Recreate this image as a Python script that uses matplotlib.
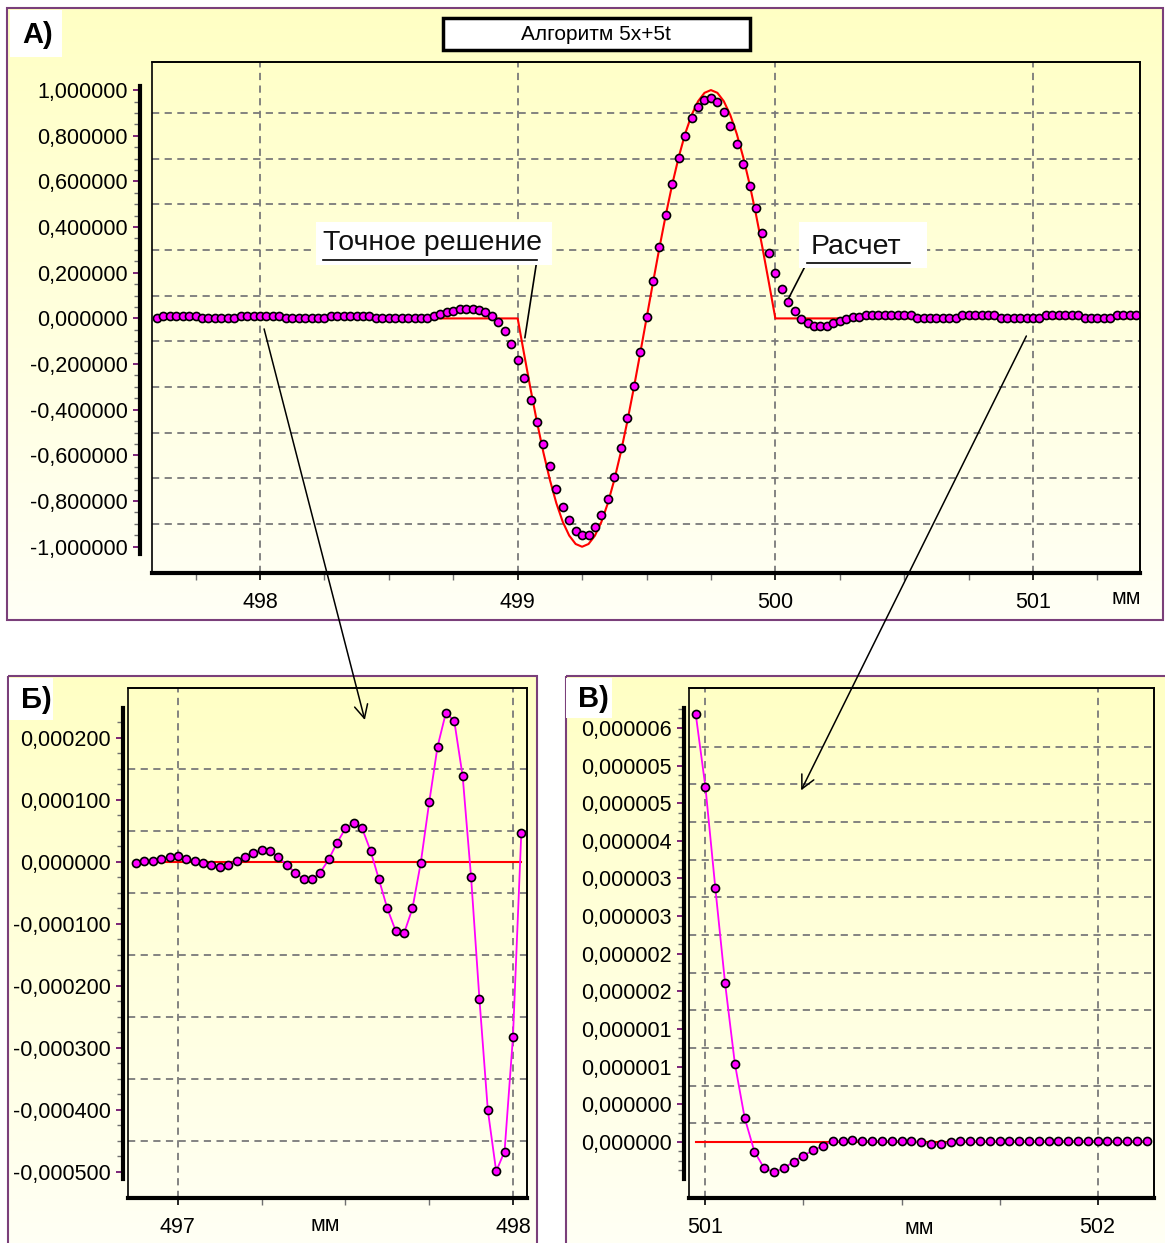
import numpy as np
import matplotlib.pyplot as plt
from matplotlib.patches import Rectangle, ConnectionPatch
from matplotlib.ticker import FixedLocator, MultipleLocator, FuncFormatter

plt.rcParams['font.family'] = ['Liberation Sans', 'DejaVu Sans']

W, H = 1165, 1243

# ---------------- data ----------------
# panel A: calculated points, step 0.025 mm starting at 497.6
a_start, a_step = 497.6, 0.025
a_vals = [
    0.003, 0.012, 0.012, 0.012, 0.012, 0.012, 0.012, 0.003, 0.003, 0.003,
    0.003, 0.003, 0.003, 0.012, 0.012, 0.012, 0.012, 0.012, 0.012, 0.012,
    0.003, 0.003, 0.003, 0.003, 0.003, 0.003, 0.003, 0.012, 0.012, 0.012,
    0.012, 0.012, 0.012, 0.012, 0.003, 0.003, 0.003, 0.003, 0.003, 0.003,
    0.003, 0.003, 0.003, 0.010, 0.018, 0.026, 0.034, 0.040, 0.041, 0.041,
    0.037, 0.029, 0.012, -0.015, -0.056, -0.112, -0.181, -0.260, -0.358, -0.455,
    -0.551, -0.647, -0.746, -0.825, -0.885, -0.930, -0.947, -0.947, -0.913, -0.859,
    -0.790, -0.693, -0.568, -0.438, -0.297, -0.147, 0.007, 0.164, 0.313, 0.455,
    0.587, 0.702, 0.797, 0.877, 0.928, 0.955, 0.965, 0.950, 0.903, 0.841,
    0.764, 0.675, 0.580, 0.482, 0.374, 0.286, 0.198, 0.127, 0.074, 0.031,
    -0.004, -0.022, -0.032, -0.034, -0.032, -0.022, -0.012, -0.003, 0.006, 0.008,
    0.015, 0.015, 0.015, 0.015, 0.015, 0.015, 0.015, 0.015, 0.003, 0.003,
    0.003, 0.003, 0.003, 0.003, 0.003, 0.015, 0.015, 0.015, 0.015, 0.015,
    0.015, 0.003, 0.003, 0.003, 0.003, 0.003, 0.003, 0.003, 0.015, 0.015,
    0.015, 0.015, 0.015, 0.015, 0.003, 0.003, 0.003, 0.003, 0.003, 0.015,
    0.015, 0.015, 0.015,
]
a_x = a_start + a_step * np.arange(len(a_vals))

# exact solution: zero, one wave between 499 and 500, zero
wave_start, wave_step = 499.0, 0.025
wave_vals = [
    0.0, -0.156, -0.309, -0.454, -0.588, -0.707, -0.809, -0.891, -0.951, -0.988,
    -1.0, -0.988, -0.951, -0.891, -0.809, -0.707, -0.588, -0.454, -0.309, -0.156,
    0.0, 0.156, 0.309, 0.454, 0.588, 0.707, 0.809, 0.891, 0.951, 0.988,
    1.0, 0.988, 0.951, 0.891, 0.809, 0.707, 0.588, 0.454, 0.309, 0.156,
    0.0,
]
wave_x = wave_start + wave_step * np.arange(len(wave_vals))
exact_x_a = np.concatenate([[497.6], wave_x, [501.4]])
exact_y_a = np.concatenate([[0.0], wave_vals, [0.0]])

# panel B: zoom left of the wave (values x1e-4)
b_start, b_step = 496.875, 0.025
b_vals = [
    -0.01, 0.02, 0.02, 0.04, 0.08, 0.09, 0.05, 0.02, -0.01, -0.05,
    -0.08, -0.05, 0.02, 0.08, 0.15, 0.19, 0.18, 0.08, -0.05, -0.17,
    -0.28, -0.28, -0.17, 0.04, 0.31, 0.54, 0.63, 0.54, 0.18, -0.28,
    -0.75, -1.11, -1.15, -0.75, -0.01, 0.96, 1.86, 2.41, 2.27, 1.38,
    -0.24, -2.21, -4.00, -4.99, -4.67, -2.83, 0.47,
]
b_x = b_start + b_step * np.arange(len(b_vals))
b_y = np.array(b_vals) * 1e-4

# panel C: zoom right of the wave (values x1e-6)
c_start, c_step = 500.975, 0.025
c_vals = [
    5.69, 4.71, 3.38, 2.11, 1.04, 0.32, -0.13, -0.35, -0.40, -0.35,
    -0.26, -0.18, -0.11, -0.05, 0.01, 0.01, 0.03, 0.01, 0.01, 0.01,
    0.01, 0.01, 0.01, 0.0, -0.03, -0.03, 0.0, 0.01, 0.01, 0.01,
    0.01, 0.01, 0.01, 0.01, 0.01, 0.01, 0.01, 0.01, 0.01, 0.01,
    0.01, 0.01, 0.01, 0.01, 0.01, 0.01, 0.01,
]
c_x = c_start + c_step * np.arange(len(c_vals))
c_y = np.array(c_vals) * 1e-6

# ticks / grid
a_yticks = [-1.0, -0.8, -0.6, -0.4, -0.2, 0.0, 0.2, 0.4, 0.6, 0.8, 1.0]
a_xticks = [498, 499, 500, 501]
a_grid_y = [-0.9, -0.7, -0.5, -0.3, -0.1, 0.1, 0.3, 0.5, 0.7, 0.9]
b_yticks = [-0.0005, -0.0004, -0.0003, -0.0002, -0.0001, 0.0, 0.0001, 0.0002]
b_xticks = [497, 498]
b_grid_y = [-0.00045, -0.00035, -0.00025, -0.00015, -0.00005, 0.00005, 0.00015]
c_yticks = [0.0, 0.5e-6, 1.0e-6, 1.5e-6, 2.0e-6, 2.5e-6, 3.0e-6, 3.5e-6,
            4.0e-6, 4.5e-6, 5.0e-6, 5.5e-6]
c_ylabels = ['0,000000', '0,000000', '0,000001', '0,000001', '0,000002',
             '0,000002', '0,000003', '0,000003', '0,000004', '0,000005',
             '0,000005', '0,000006']
c_xticks = [501, 502]
c_grid_y = [0.25e-6, 0.75e-6, 1.25e-6, 1.75e-6, 2.25e-6, 2.75e-6, 3.25e-6,
            3.75e-6, 4.25e-6, 4.75e-6, 5.25e-6]

RED = '#FF0000'
MAG = '#FF00FF'
GRID = '#7A7A7A'
FRAME = '#7A3F7A'
TICK_FS = 15.5
MS, MEW = 5.8, 1.2


def px_rect(x0, y0, x1, y1):
    return [x0 / W, 1 - y1 / H, (x1 - x0) / W, (y1 - y0) / H]


fig = plt.figure(figsize=(W / 100, H / 100), dpi=100)
fig.patch.set_facecolor('white')

# background with frames and gradients
bg = fig.add_axes([0, 0, 1, 1], zorder=0)
grad = np.linspace(0, 1, 256)[:, None, None]
top_c = np.array([1.0, 1.0, 0.77])
bot_c = np.array([1.0, 1.0, 0.965])
grad_img = top_c * (1 - grad) + bot_c * grad
for (x0, y0, x1, y1) in [(7, 8, 1163, 620), (8, 676, 537, 1260), (566, 676, 1180, 1260)]:
    bg.imshow(grad_img, extent=(x0, x1, y1, y0), aspect='auto', interpolation='bilinear')
    bg.add_patch(Rectangle((x0, y0), x1 - x0, y1 - y0, fill=False, ec=FRAME, lw=1.5))
bg.set_xlim(0, W)
bg.set_ylim(H, 0)
bg.axis('off')


def style(ax, xlim, ylim, bounds, outward, xticks, yticks, minor_y, grid_x, grid_y, fmt):
    ax.set_xlim(*xlim)
    ax.set_ylim(*ylim)
    ax.patch.set_alpha(0)
    for s in ['top', 'right']:
        ax.spines[s].set_linewidth(1.2)
    ax.spines['bottom'].set_linewidth(3)
    ax.spines['left'].set_position(('outward', outward))
    ax.spines['left'].set_bounds(*bounds)
    ax.spines['left'].set_linewidth(3)
    ax.add_patch(Rectangle((0, 0), 1, 1, transform=ax.transAxes, fill=False,
                           ec='black', lw=1.2, zorder=6, clip_on=False))
    for gx in grid_x:
        ax.axvline(gx, color=GRID, lw=1.3, ls=(0, (4, 3)), zorder=1)
    for gy in grid_y:
        ax.axhline(gy, color=GRID, lw=1.3, ls=(0, (4, 3)), zorder=1)
    ax.xaxis.set_major_locator(FixedLocator(xticks))
    ax.xaxis.set_minor_locator(MultipleLocator(0.25))
    ax.yaxis.set_major_locator(FixedLocator(yticks))
    ax.yaxis.set_minor_locator(FixedLocator(minor_y))
    ax.yaxis.set_major_formatter(fmt)
    ax.xaxis.set_major_formatter(FuncFormatter(lambda v, p: f'{v:.0f}'))
    ax.tick_params(axis='both', which='both', direction='out', labelsize=TICK_FS)
    ax.tick_params(axis='y', which='major', length=5, width=1.2, color='#660066', pad=4)
    ax.tick_params(axis='y', which='minor', length=4, width=1.0, color='#707070')
    ax.tick_params(axis='x', which='major', length=5, width=1.2, pad=9)
    ax.tick_params(axis='x', which='minor', length=5, width=1.0, color='#707070')


comma6 = FuncFormatter(lambda v, p: f'{v:.6f}'.replace('.', ','))

# ---------- panel A ----------
ax_a = fig.add_axes(px_rect(152, 62, 1140, 573), zorder=5)
style(ax_a, (497.581, 501.415), (-1.115, 1.123), (-1.03, 1.02), 8.6,
      a_xticks, a_yticks, np.arange(-1.0, 1.001, 0.05), a_xticks, a_grid_y, comma6)
ax_a.plot(exact_x_a, exact_y_a, color=RED, lw=1.5, zorder=3)
ax_a.plot(a_x, a_vals, 'o', ms=MS, mfc=MAG, mec='black', mew=MEW, zorder=4)
ax_a.text(0.986, -0.05, 'мм', transform=ax_a.transAxes, ha='center', va='center', fontsize=TICK_FS)

# ---------- panel B ----------
ax_b = fig.add_axes(px_rect(128, 688, 527, 1198), zorder=5)
style(ax_b, (496.851, 498.042), (-5.42e-4, 2.806e-4), (-5.11e-4, 2.48e-4), 3.6,
      b_xticks, b_yticks, np.arange(-0.0005, 0.00023, 0.000025), b_xticks, b_grid_y, comma6)
ax_b.plot([b_x[0], b_x[-1]], [0, 0], color=RED, lw=1.5, zorder=3)
ax_b.plot(b_x, b_y, '-', color=MAG, lw=1.3, zorder=3.5)
ax_b.plot(b_x, b_y, 'o', ms=MS, mfc=MAG, mec='black', mew=MEW, zorder=4)
ax_b.text(0.495, -0.054, 'мм', transform=ax_b.transAxes, ha='center', va='center', fontsize=TICK_FS)

# ---------- panel C ----------
ax_c = fig.add_axes(px_rect(689, 688, 1154, 1198), zorder=5)
style(ax_c, (500.958, 502.144), (-0.744e-6, 6.03e-6), (-0.49e-6, 5.76e-6), 3.6,
      c_xticks, c_yticks, np.arange(-0.375e-6, 5.76e-6, 0.125e-6), c_xticks, c_grid_y, comma6)
ax_c.set_yticklabels(c_ylabels)
ax_c.plot([c_x[0], c_x[-1]], [0, 0], color=RED, lw=1.5, zorder=3)
ax_c.plot(c_x, c_y, '-', color=MAG, lw=1.3, zorder=3.5)
ax_c.plot(c_x, c_y, 'o', ms=MS, mfc=MAG, mec='black', mew=MEW, zorder=4)
ax_c.text(0.495, -0.06, 'мм', transform=ax_c.transAxes, ha='center', va='center', fontsize=TICK_FS)

# ---------- overlay: labels, title, callouts ----------
ov = fig.add_axes([0, 0, 1, 1], zorder=10)
ov.set_xlim(0, W)
ov.set_ylim(H, 0)
ov.axis('off')

for (x0, y0, x1, y1, lab) in [(10, 10, 62, 57, 'А)'), (9, 678, 53, 720, 'Б)'), (566, 678, 612, 718, 'В)')]:
    ov.add_patch(Rectangle((x0, y0), x1 - x0, y1 - y0, fc='white', ec='none'))
    ov.text(x0 + 12, (y0 + y1) / 2 + 1, lab, ha='left', va='center', fontsize=21, fontweight='bold')

ov.add_patch(Rectangle((443, 18), 307, 32, fc='white', ec='black', lw=2.5))
ov.text(596, 34.5, 'Алгоритм 5x+5t', ha='center', va='center', fontsize=15)

# "Точное решение"
ov.add_patch(Rectangle((316, 222), 236, 43, fc='white', ec='none'))
ov.text(323, 250, 'Точное решение', ha='left', va='baseline', fontsize=20.5, color='#111111')
ov.plot([323, 537], [259.5, 259.5], color='black', lw=1.2)
ax_a.annotate('', xy=(499.028, -0.085), xycoords='data', xytext=(537, 259.5),
              textcoords=ov.transData,
              arrowprops=dict(arrowstyle='-', color='black', lw=1.2, shrinkA=0, shrinkB=0))

# "Расчет"
ov.add_patch(Rectangle((799, 222), 128, 46, fc='white', ec='none'))
ov.text(811, 254, 'Расчет', ha='left', va='baseline', fontsize=20.5, color='#111111')
ov.plot([807, 910], [262.5, 262.5], color='black', lw=1.2)
ax_a.annotate('', xy=(500.05, 0.085), xycoords='data', xytext=(807, 262.5),
              textcoords=ov.transData,
              arrowprops=dict(arrowstyle='-', color='black', lw=1.2, shrinkA=0, shrinkB=0))

# arrows from panel A to the zoomed panels
for (xa, ya, axz, xz, yz) in [(498.016, -0.046, ax_b, 497.558, 2.29e-4),
                              (500.974, -0.077, ax_c, 501.244, 4.67e-6)]:
    con = ConnectionPatch(xyA=(xa, ya), coordsA=ax_a.transData,
                          xyB=(xz, yz), coordsB=axz.transData,
                          arrowstyle='->', mutation_scale=24, lw=1.1, color='black',
                          shrinkA=0, shrinkB=0, zorder=20)
    fig.add_artist(con)

fig.savefig('out.png', dpi=100)
